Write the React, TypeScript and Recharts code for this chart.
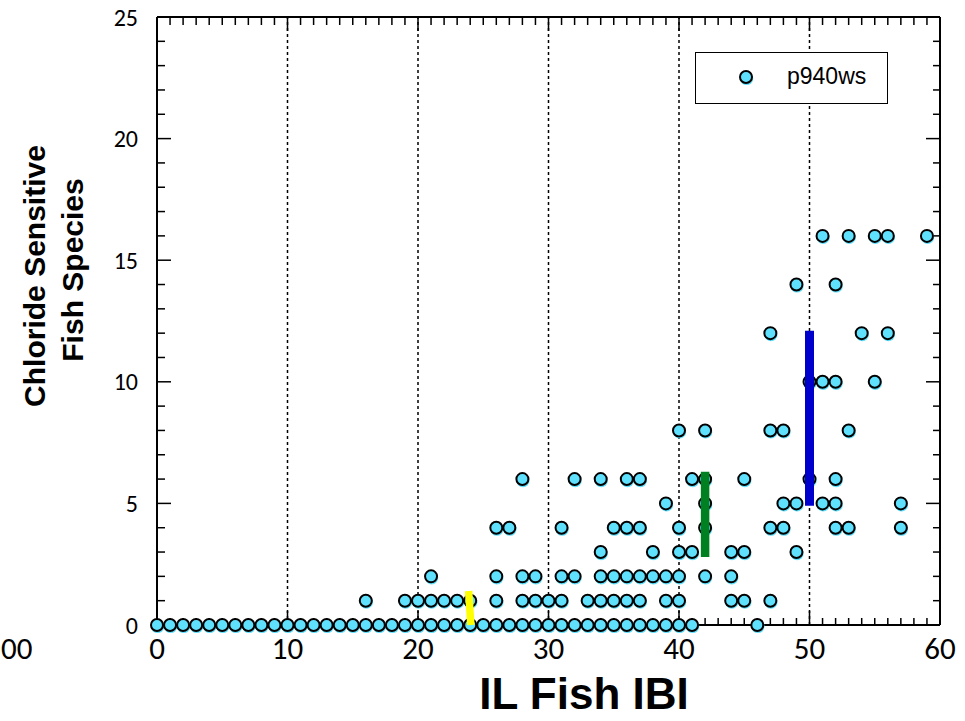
import { ScatterChart, Scatter, XAxis, YAxis, ReferenceLine, Legend } from "recharts";

// IBI scores of the sites, grouped by number of chloride sensitive species
const ibiWith0 = [0, 1, 2, 3, 4, 5, 6, 7, 8, 9, 10, 11, 12, 13, 14, 15, 16, 17, 18, 19, 20, 21, 22, 23, 24, 25, 26, 27, 28, 29, 30, 31, 32, 33, 34, 35, 36, 37, 38, 39, 40, 41, 46];
const ibiWith1 = [16, 19, 20, 21, 22, 23, 24, 26, 28, 29, 30, 31, 33, 34, 35, 36, 37, 39, 40, 44, 45, 47];
const ibiWith2 = [21, 26, 28, 29, 31, 32, 34, 35, 36, 37, 38, 39, 40, 42, 44];
const ibiWith3 = [34, 38, 40, 41, 44, 45, 49];
const ibiWith4 = [26, 27, 31, 35, 36, 37, 40, 42, 47, 48, 52, 53, 57];
const ibiWith5 = [39, 42, 48, 49, 51, 52, 57];
const ibiWith6 = [28, 32, 34, 36, 37, 41, 42, 45, 50, 52];
const ibiWith8 = [40, 42, 47, 48, 53];
const ibiWith10 = [50, 51, 52, 55];
const ibiWith12 = [47, 54, 56];
const ibiWith14 = [49, 52];
const ibiWith16 = [51, 53, 55, 56, 59];

// range bars: [ibi, low, high]
const yellowBar = [24, 0, 1.4];
const greenBar = [42, 2.8, 6.3];
const blueBar = [50, 4.9, 12.1];

const xTicks = [0, 1, 2, 3, 4, 5, 6, 7, 8, 9, 10, 11, 12, 13, 14, 15, 16, 17, 18, 19, 20, 21, 22, 23, 24, 25, 26, 27, 28, 29, 30, 31, 32, 33, 34, 35, 36, 37, 38, 39, 40, 41, 42, 43, 44, 45, 46, 47, 48, 49, 50, 51, 52, 53, 54, 55, 56, 57, 58, 59, 60];
const xLabels = [0, 10, 20, 30, 40, 50, 60];
const yTicks = [0, 1, 2, 3, 4, 5, 6, 7, 8, 9, 10, 11, 12, 13, 14, 15, 16, 17, 18, 19, 20, 21, 22, 23, 24, 25];
const yLabels = [0, 5, 10, 15, 20, 25];
const gridLines = [10, 20, 30, 40, 50];

const rows: [number, number[]][] = [
  [0, ibiWith0], [1, ibiWith1], [2, ibiWith2], [3, ibiWith3], [4, ibiWith4], [5, ibiWith5],
  [6, ibiWith6], [8, ibiWith8], [10, ibiWith10], [12, ibiWith12], [14, ibiWith14], [16, ibiWith16],
];
const data = rows.flatMap(([species, list]) => list.map((ibi) => ({ ibi, species })));

const W = 965;
const H = 721;
const MARGIN = { top: 17, right: 25, left: 10, bottom: 56 };
const Y_AXIS_W = 147;
const X_AXIS_H = 40;
const X_MIN = 0, X_MAX = 60, Y_MIN = 0, Y_MAX = 25;
// data units per screen pixel, used to give the inward ticks a pixel length
const X_PER_PX = (X_MAX - X_MIN) / (W - MARGIN.left - Y_AXIS_W - MARGIN.right);
const Y_PER_PX = (Y_MAX - Y_MIN) / (H - MARGIN.top - MARGIN.bottom - X_AXIS_H);

const TICK_FONT = "Carlito, Lato, sans-serif";
const TITLE_FONT = "'Liberation Sans', Arial, sans-serif";
const DOT = "#5fe0fd";

const Dot = ({ cx, cy }: any) => (
  <g>
    <circle cx={cx + 0.6} cy={cy + 1.5} r={6.6} fill={DOT} />
    <circle cx={cx} cy={cy} r={6} fill={DOT} stroke="#000" strokeWidth={2} />
  </g>
);

const BottomLabel = ({ x, y, payload }: any) =>
  xLabels.includes(payload.value) ? (
    <text x={x} y={y + 34} textAnchor="middle" fontFamily={TICK_FONT} fontSize={31} fill="#000">
      {payload.value}
    </text>
  ) : (
    <g />
  );

const LeftLabel = ({ x, y, payload }: any) =>
  yLabels.includes(payload.value) ? (
    <text x={x - 19} y={y + 8.5} textAnchor="end" fontFamily={TICK_FONT} fontSize={24} fill="#000">
      {payload.value}
    </text>
  ) : (
    <g />
  );

const LegendBox = () => (
  <div
    style={{
      width: 193,
      height: 52,
      boxSizing: "border-box",
      border: "1.5px solid #000",
      background: "#fff",
      position: "relative",
      fontFamily: "'Liberation Sans', Arial, sans-serif",
      fontSize: 23,
    }}
  >
    <svg width={22} height={22} style={{ position: "absolute", left: 40, top: 15 }}>
      <Dot cx={10} cy={9} />
    </svg>
    <span style={{ position: "absolute", left: 91, top: 10 }}>p940ws</span>
  </div>
);

const tickStyle = { stroke: "#000", strokeWidth: 1.5 };

export default function App() {
  return (
    <div style={{ position: "absolute", left: 0, top: 0, background: "#fff" }}>
      <ScatterChart width={W} height={H} margin={MARGIN}>
        <XAxis
          dataKey="ibi"
          type="number"
          domain={[X_MIN, X_MAX]}
          ticks={xTicks}
          interval={0}
          tickSize={0}
          tickMargin={0}
          tickLine={false}
          axisLine={{ stroke: "#000", strokeWidth: 2 }}
          tick={BottomLabel}
          height={X_AXIS_H}
        />
        <YAxis
          dataKey="species"
          type="number"
          domain={[Y_MIN, Y_MAX]}
          ticks={yTicks}
          interval={0}
          tickSize={0}
          tickMargin={0}
          tickLine={false}
          axisLine={{ stroke: "#000", strokeWidth: 2 }}
          tick={LeftLabel}
          width={Y_AXIS_W}
        />
        {gridLines.map((g) => (
          <ReferenceLine key={"g" + g} x={g} stroke="#000" strokeWidth={1.5} strokeDasharray="3 3" />
        ))}
        <ReferenceLine y={Y_MAX} stroke="#000" strokeWidth={2} />
        <ReferenceLine x={X_MAX} stroke="#000" strokeWidth={2} />
        {xTicks.map((t) => {
          const major = xLabels.includes(t);
          const bottom = (major ? 14 : 7) * Y_PER_PX;
          const top = (major ? 14 : 8) * Y_PER_PX;
          return [
            <ReferenceLine key={"b" + t} segment={[{ x: t, y: Y_MIN }, { x: t, y: Y_MIN + bottom }]} {...tickStyle} />,
            <ReferenceLine key={"t" + t} segment={[{ x: t, y: Y_MAX }, { x: t, y: Y_MAX - top }]} {...tickStyle} />,
          ];
        })}
        {yTicks.map((t) => {
          const major = yLabels.includes(t);
          const left = (major ? 14 : 8) * X_PER_PX;
          const right = (major ? 14 : 7) * X_PER_PX;
          return [
            <ReferenceLine key={"l" + t} segment={[{ x: X_MIN, y: t }, { x: X_MIN + left, y: t }]} {...tickStyle} />,
            <ReferenceLine key={"r" + t} segment={[{ x: X_MAX, y: t }, { x: X_MAX - right, y: t }]} {...tickStyle} />,
          ];
        })}
        <Legend
          layout="vertical"
          verticalAlign="middle"
          align="center"
          content={LegendBox}
          wrapperStyle={{ left: 695, top: 52, width: 193, height: 52 }}
        />
        <Scatter name="p940ws" data={data} fill={DOT} shape={Dot} isAnimationActive={false} />
        <ReferenceLine
          segment={[{ x: yellowBar[0] + 0.05, y: yellowBar[1] }, { x: yellowBar[0] - 0.12, y: yellowBar[2] }]}
          stroke="#ffff00"
          strokeWidth={7.5}
          zIndex={1000}
        />
        <ReferenceLine
          segment={[{ x: greenBar[0], y: greenBar[1] }, { x: greenBar[0], y: greenBar[2] }]}
          stroke="#008020"
          strokeWidth={8.5}
          zIndex={1000}
        />
        <ReferenceLine
          segment={[{ x: blueBar[0], y: blueBar[1] }, { x: blueBar[0], y: blueBar[2] }]}
          stroke="#0000cc"
          strokeWidth={9}
          zIndex={1000}
        />
        <text x={1} y={659} textAnchor="start" fontFamily={TICK_FONT} fontSize={31} fill="#000">
          00
        </text>
        <text x={584} y={709} textAnchor="middle" fontFamily={TITLE_FONT} fontWeight="bold" fontSize={44} fill="#000">
          IL Fish IBI
        </text>
        <text
          transform="translate(45 276) rotate(-90)"
          textAnchor="middle"
          fontFamily={TITLE_FONT}
          fontWeight="bold"
          fontSize={30}
          fill="#000"
        >
          Chloride Sensitive
        </text>
        <text
          transform="translate(83 270) rotate(-90)"
          textAnchor="middle"
          fontFamily={TITLE_FONT}
          fontWeight="bold"
          fontSize={30}
          fill="#000"
        >
          Fish Species
        </text>
      </ScatterChart>
    </div>
  );
}
